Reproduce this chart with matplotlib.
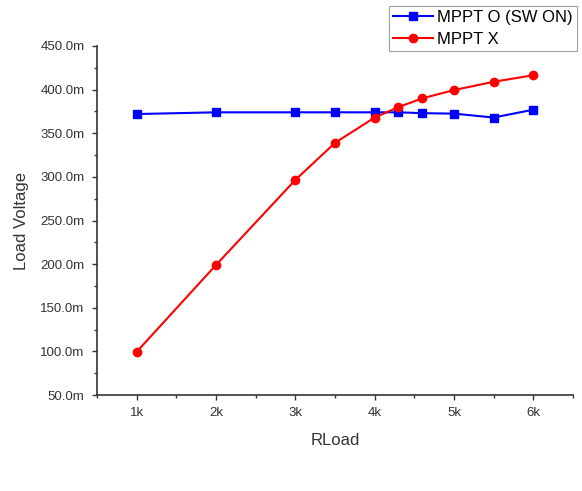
import matplotlib
matplotlib.use("Agg")
import matplotlib.pyplot as plt
from matplotlib.ticker import FuncFormatter, MultipleLocator

# Load resistance (ohm) and load voltage (mV)
rload = [1000, 2000, 3000, 3500, 4000, 4300, 4600, 5000, 5500, 6000]
mppt_on = [372, 374, 374, 374, 374, 374, 373, 372.5, 368, 377]
mppt_x = [99.5, 199, 296.5, 339, 368, 380, 390, 399.5, 409, 416.5]

plt.rcParams["font.family"] = ["Liberation Sans", "DejaVu Sans"]

fig = plt.figure(figsize=(5.82, 4.91), dpi=100)
ax = fig.add_axes([97 / 582, 1 - 395 / 491, 476 / 582, 349 / 491])

ax.plot(rload, mppt_on, color="#0000ff", marker="s", markersize=5.5,
        linewidth=1.5, label="MPPT O (SW ON)")
ax.plot(rload, mppt_x, color="#ff0000", marker="o", markersize=6,
        linewidth=1.5, label="MPPT X")

ax.set_xlim(500, 6500)
ax.set_ylim(50, 450)
ax.xaxis.set_major_locator(MultipleLocator(1000))
ax.xaxis.set_minor_locator(MultipleLocator(500))
ax.yaxis.set_major_locator(MultipleLocator(50))
ax.yaxis.set_minor_locator(MultipleLocator(25))
ax.xaxis.set_major_formatter(FuncFormatter(lambda v, p: f"{v / 1000:.0f}k"))
ax.yaxis.set_major_formatter(FuncFormatter(lambda v, p: f"{v:.1f}m"))

for side in ("top", "right"):
    ax.spines[side].set_visible(False)
for side in ("left", "bottom"):
    ax.spines[side].set_color("#333333")
    ax.spines[side].set_linewidth(1.2)

ax.tick_params(which="major", direction="out", length=3.5, width=1.0, pad=5.5,
               labelsize=9.5, colors="#333333", labelcolor="#333333")
ax.tick_params(which="minor", direction="out", length=2.5, width=1.0,
               colors="#333333")

ax.set_xlabel("RLoad", fontsize=12, color="#333333", labelpad=10)
ax.set_ylabel("Load Voltage", fontsize=12, color="#333333", labelpad=8)

leg = fig.legend(loc="upper left", bbox_to_anchor=(389 / 582, 1 - 6 / 491),
                 fontsize=12, frameon=True, fancybox=False, borderpad=0.25,
                 handlelength=2.4, handletextpad=0.25, labelspacing=0.4,
                 borderaxespad=0)
leg.get_frame().set_edgecolor("#888888")
leg.get_frame().set_linewidth(0.8)

plt.savefig("out.png", dpi=100)
plt.close()
